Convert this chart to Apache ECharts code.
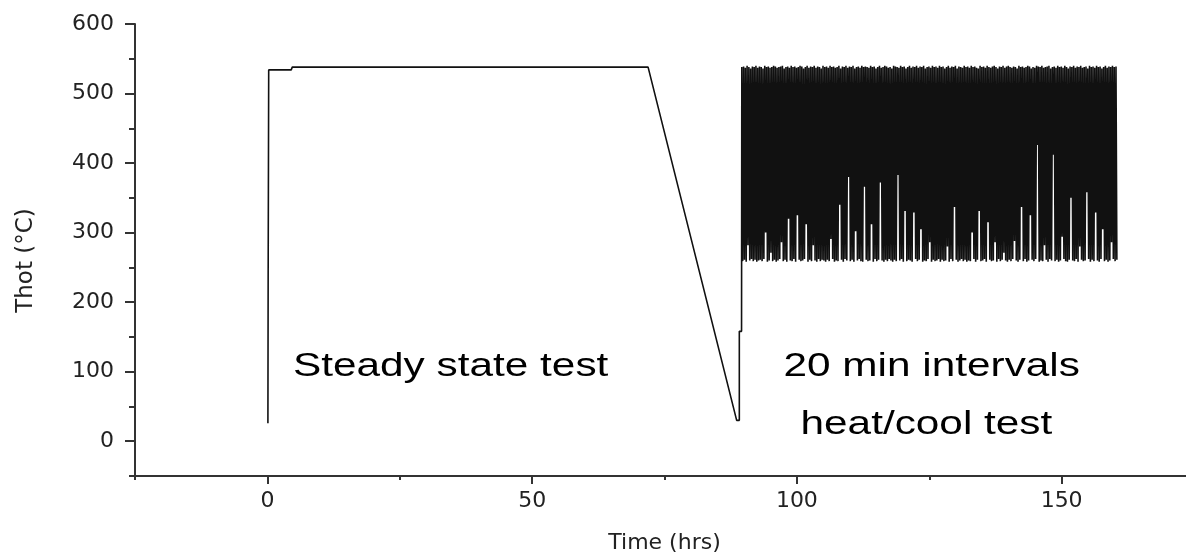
<!DOCTYPE html>
<html>
<head>
<meta charset="utf-8">
<script src="https://cdn.jsdelivr.net/npm/echarts@6/dist/echarts.min.js"></script>
<style>
html,body{margin:0;padding:0;background:#fff;}
#chart{width:1186px;height:553px;}
</style>
</head>
<body>
<div id="chart"></div>
<script>
// ---- Data ----
// Steady state test (time in hrs, Thot in °C), incl. cool-down and ramp to cycling
const steadyTime = [0.1, 0.15, 0.25, 4.5, 4.7, 71.9, 88.63, 89.13, 89.13, 89.55];
const steadyTemp = [26, 245, 534, 534, 538, 538, 30, 30, 158, 158];

// Heat/cool cycling: one cycle every 20 min, starting at cycleStartHrs
const cycleStartHrs = 89.6;
const cycleMinutes = 20;
const cycleHigh = [
  538, 539, 537, 540, 538, 536, 539, 538, 540, 537,
  539, 538, 536, 540, 538, 539, 537, 538, 540, 539,
  537, 538, 539, 540, 536, 538, 539, 537, 540, 538,
  539, 537, 538, 540, 539, 536, 538, 540, 537, 539,
  538, 540, 537, 539, 538, 536, 540, 538, 539, 537,
  540, 538, 539, 537, 538, 540, 536, 539, 538, 540,
  537, 539, 538, 540, 536, 538, 539, 537, 540, 538,
  539, 538, 537, 540, 538, 539, 536, 538, 540, 537,
  538, 540, 539, 537, 538, 536, 540, 539, 538, 537,
  540, 538, 539, 536, 538, 540, 537, 539, 538, 540,
  537, 539, 538, 540, 536, 538, 539, 537, 540, 538,
  539, 537, 540, 538, 539, 536, 538, 540, 537, 539,
  538, 540, 536, 539, 538, 537, 540, 538, 539, 537,
  540, 538, 539, 537, 536, 540, 538, 539, 537, 540,
  538, 537, 539, 540, 538, 536, 539, 538, 540, 537,
  539, 540, 538, 537, 539, 538, 536, 540, 538, 539,
  537, 538, 540, 539, 536, 538, 537, 540, 539, 538,
  540, 537, 538, 539, 540, 536, 538, 539, 537, 540,
  538, 539, 537, 540, 538, 536, 539, 538, 540, 537,
  539, 538, 540, 537, 538, 539, 536, 540, 538, 539,
  537, 540, 538, 539, 536, 538, 540, 537, 539, 538,
  540, 538, 539
];
const cycleLow = [
  259, 261, 258, 282, 260, 262, 259, 261, 258, 260,
  261, 259, 262, 300, 258, 260, 271, 259, 261, 258,
  260, 262, 286, 259, 261, 258, 320, 260, 259, 262,
  258, 325, 261, 259, 260, 262, 312, 258, 261, 259,
  282, 260, 258, 262, 259, 261, 260, 258, 261, 259,
  291, 262, 258, 260, 259, 340, 261, 258, 262, 260,
  380, 259, 261, 258, 302, 260, 262, 259, 258, 366,
  261, 259, 260, 312, 258, 262, 259, 261, 372, 260,
  258, 261, 259, 262, 260, 258, 261, 259, 383, 260,
  262, 258, 331, 259, 261, 260, 258, 329, 262, 259,
  261, 305, 258, 260, 259, 262, 286, 258, 261, 259,
  260, 262, 258, 261, 259, 260, 280, 258, 262, 259,
  337, 261, 258, 260, 262, 259, 261, 258, 260, 259,
  300, 262, 258, 261, 331, 259, 260, 262, 258, 315,
  261, 259, 260, 286, 258, 262, 259, 261, 271, 260,
  258, 261, 259, 262, 288, 260, 258, 261, 337, 259,
  262, 258, 260, 325, 261, 259, 262, 426, 258, 260,
  259, 282, 261, 258, 262, 260, 412, 259, 261, 258,
  260, 294, 262, 259, 258, 261, 350, 260, 259, 262,
  258, 280, 261, 259, 260, 358, 262, 258, 261, 259,
  329, 260, 258, 262, 305, 259, 261, 258, 260, 286,
  262, 259, 261
];

// Axis ticks / labels
const xTickLabels = [0, 50, 100, 150];
const xMinorTicks = [-25, 25, 75, 125, 175];
const yTickLabels = [0, 100, 200, 300, 400, 500, 600];
const yMinorTicks = [-50, 50, 150, 250, 350, 450, 550];

// ---- Build series data ----
const seriesData = [];
for (let i = 0; i < steadyTime.length; i++) seriesData.push([steadyTime[i], steadyTemp[i]]);
const cycleHrs = cycleMinutes / 60;
for (let i = 0; i < cycleHigh.length; i++) {
  const t = cycleStartHrs + i * cycleHrs;
  seriesData.push([t, cycleHigh[i]]);
  seriesData.push([t + cycleHrs / 2, cycleLow[i]]);
}

const axisColor = '#333';
const labelColor = '#222';
const labelFont = 'DejaVu Sans';
const annoFont = '34px "Liberation Sans", Arial, sans-serif';

const chart = echarts.init(document.getElementById('chart'), null, {renderer: 'canvas'});
chart.setOption({
  animation: false,
  backgroundColor: '#fff',
  grid: {left: 135, right: -8, top: 24, bottom: 77, containLabel: false, outerBoundsMode: 'none'},
  xAxis: [
    {
      type: 'value', min: -25, max: 175, position: 'bottom',
      axisLine: {onZero: false, lineStyle: {color: axisColor, width: 2}},
      axisTick: {customValues: xTickLabels, length: 8, lineStyle: {color: axisColor, width: 2}},
      axisLabel: {customValues: xTickLabels, fontFamily: labelFont, fontSize: 22, color: labelColor, margin: 14},
      splitLine: {show: false},
      name: 'Time (hrs)', nameLocation: 'middle', nameGap: 56,
      nameTextStyle: {fontFamily: labelFont, fontSize: 22, color: labelColor}
    },
    {
      type: 'value', min: -25, max: 175, position: 'bottom', gridIndex: 0,
      axisLine: {show: false, onZero: false},
      axisTick: {customValues: xMinorTicks, length: 4, lineStyle: {color: axisColor, width: 2}},
      axisLabel: {show: false},
      splitLine: {show: false}
    }
  ],
  yAxis: [
    {
      type: 'value', min: -50, max: 600, position: 'left',
      axisLine: {show: true, onZero: false, lineStyle: {color: axisColor, width: 2}},
      axisTick: {show: true, customValues: yTickLabels, length: 10, lineStyle: {color: axisColor, width: 2}},
      axisLabel: {customValues: yTickLabels, fontFamily: labelFont, fontSize: 22, color: labelColor, margin: 21},
      splitLine: {show: false},
      name: 'Thot (°C)', nameLocation: 'middle', nameGap: 97,
      nameTextStyle: {fontFamily: labelFont, fontSize: 23, color: labelColor, padding: [0, 21, 0, 0]}
    },
    {
      type: 'value', min: -50, max: 600, position: 'left', gridIndex: 0,
      axisLine: {show: false, onZero: false},
      axisTick: {show: true, customValues: yMinorTicks, length: 6, lineStyle: {color: axisColor, width: 2}},
      axisLabel: {show: false},
      splitLine: {show: false}
    }
  ],
  series: [{
    type: 'line',
    xAxisIndex: 0, yAxisIndex: 0,
    data: seriesData,
    showSymbol: false,
    symbol: 'none',
    lineStyle: {color: '#111', width: 1.6, join: 'bevel'},
    silent: true
  }],
  graphic: [
    {type: 'text', x: 293, y: 367, scaleX: 1.245,
     style: {text: 'Steady state test', font: annoFont, fill: '#000', align: 'left', verticalAlign: 'middle'}},
    {type: 'text', x: 783.5, y: 366.5, scaleX: 1.245,
     style: {text: '20 min intervals', font: annoFont, fill: '#000', align: 'left', verticalAlign: 'middle'}},
    {type: 'text', x: 800.5, y: 424.5, scaleX: 1.245,
     style: {text: 'heat/cool test', font: annoFont, fill: '#000', align: 'left', verticalAlign: 'middle'}}
  ]
});
</script>
</body>
</html>
